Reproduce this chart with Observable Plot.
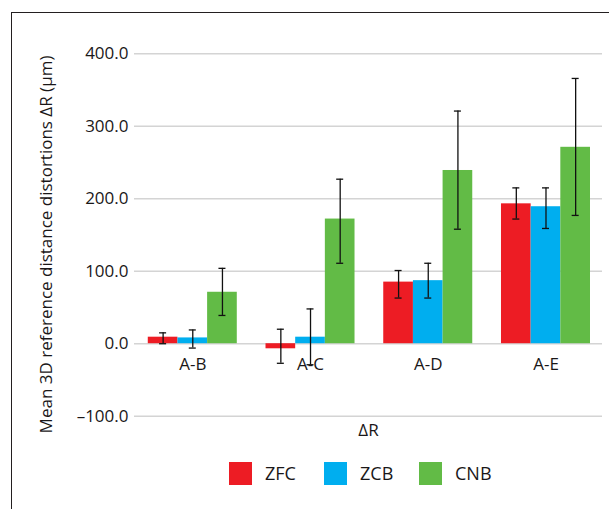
<!DOCTYPE html>
<html>
<head>
<meta charset="utf-8">
<script src="https://cdn.jsdelivr.net/npm/d3@7"></script>
<script src="https://cdn.jsdelivr.net/npm/@observablehq/plot@0.6"></script>
<style>
  html, body { margin: 0; padding: 0; background: #fff; }
  body { width: 609px; height: 509px; position: relative; overflow: hidden; font-family: "Open Sans", sans-serif; color: #1a1718; }
  #frame { position: absolute; left: 11px; top: 12px; width: 700px; height: 600px; border-left: 1.5px solid #231f20; border-top: 1.5px solid #231f20; }
  #chart { position: absolute; left: 0; top: 0; }
  #legend { position: absolute; left: 0; top: 461px; width: 609px; height: 24px; }
  .item { position: absolute; top: 0; display: flex; align-items: center; height: 24px; }
  .sw { width: 23px; height: 23px; margin-right: 13px; }
  .lb { font-size: 18px; line-height: 24px; }
</style>
</head>
<body>
<div id="frame"></div>
<div id="chart"></div>
<div id="legend"></div>
<script>
const categories = ["A-B", "A-C", "A-D", "A-E"];
const seriesNames = ["ZFC", "ZCB", "CNB"];
const seriesColors = ["#ED1C24", "#00AEEF", "#62BB46"];

const zfcMean = [9, -7, 85, 193];
const zfcLow  = [0, -27, 63, 172];
const zfcHigh = [15, 20, 101, 215];

const zcbMean = [8, 9, 87, 189];
const zcbLow  = [-6, -29, 63, 159];
const zcbHigh = [19, 48, 111, 215];

const cnbMean = [71, 172, 239, 271];
const cnbLow  = [39, 111, 158, 177];
const cnbHigh = [104, 227, 321, 366];

const yTicks = [-100, 0, 100, 200, 300, 400];

const means = [zfcMean, zcbMean, cnbMean];
const lows = [zfcLow, zcbLow, cnbLow];
const highs = [zfcHigh, zcbHigh, cnbHigh];

const groupWidth = 0.756;           // share of a category slot covered by its bars
const barW = groupWidth / seriesNames.length;

const data = [];
categories.forEach((c, i) => {
  seriesNames.forEach((s, j) => {
    const left = i - groupWidth / 2 + j * barW;
    data.push({
      category: c, series: s,
      x1: left, x2: left + barW, xc: left + barW / 2,
      value: means[j][i], low: lows[j][i], high: highs[j][i]
    });
  });
});

const fmt = d => (d < 0 ? "\u2013" : "") + Math.abs(d).toFixed(1);
const ink = "#1a1718";

const chart = Plot.plot({
  width: 609,
  height: 450,
  marginLeft: 134,
  marginRight: 7,
  marginTop: 53.3,
  marginBottom: 34.3,
  style: { fontFamily: "Open Sans, sans-serif", color: ink, background: "transparent" },
  x: { type: "linear", domain: [-0.495, 3.48], axis: null },
  y: { domain: [-100, 400], axis: null },
  color: { domain: seriesNames, range: seriesColors },
  marks: [
    Plot.ruleY(yTicks, { stroke: "#d4d4d4", strokeWidth: 1.5 }),
    Plot.rectY(data, { x1: "x1", x2: "x2", y1: 0, y2: "value", fill: "series" }),
    Plot.ruleX(data, { x: "xc", y1: "low", y2: "high", stroke: "#111", strokeWidth: 1.3 }),
    Plot.ruleY(data, { y: "low", x1: "xc", x2: "xc", insetLeft: -3.5, insetRight: -3.5, stroke: "#111", strokeWidth: 1.3 }),
    Plot.ruleY(data, { y: "high", x1: "xc", x2: "xc", insetLeft: -3.5, insetRight: -3.5, stroke: "#111", strokeWidth: 1.3 }),
    Plot.axisY(yTicks, { tickSize: 0, tickPadding: 6, tickFormat: fmt, fontSize: 17, label: null, fill: ink }),
    Plot.text(categories, { x: (d, i) => i, y: () => 0, text: d => d, dy: 21, fontSize: 17, fill: ink, textAnchor: "middle" }),
    Plot.text(["\u0394R"], { frameAnchor: "bottom", dy: 20, fontSize: 17, fill: ink }),
    Plot.text(["Mean 3D reference distance distortions \u0394R (\u03bcm)"], { frameAnchor: "left", rotate: -90, dx: -88, dy: 9.5, fontSize: 17, fill: ink, textAnchor: "middle" })
  ]
});
document.getElementById("chart").appendChild(chart);

const legend = document.getElementById("legend");
seriesNames.forEach((s, i) => {
  const item = document.createElement("div");
  item.className = "item";
  item.style.left = (229 + i * 95) + "px";
  const sw = document.createElement("div");
  sw.className = "sw";
  sw.style.background = seriesColors[i];
  const lb = document.createElement("span");
  lb.className = "lb";
  lb.textContent = s;
  item.appendChild(sw);
  item.appendChild(lb);
  legend.appendChild(item);
});
</script>
</body>
</html>
